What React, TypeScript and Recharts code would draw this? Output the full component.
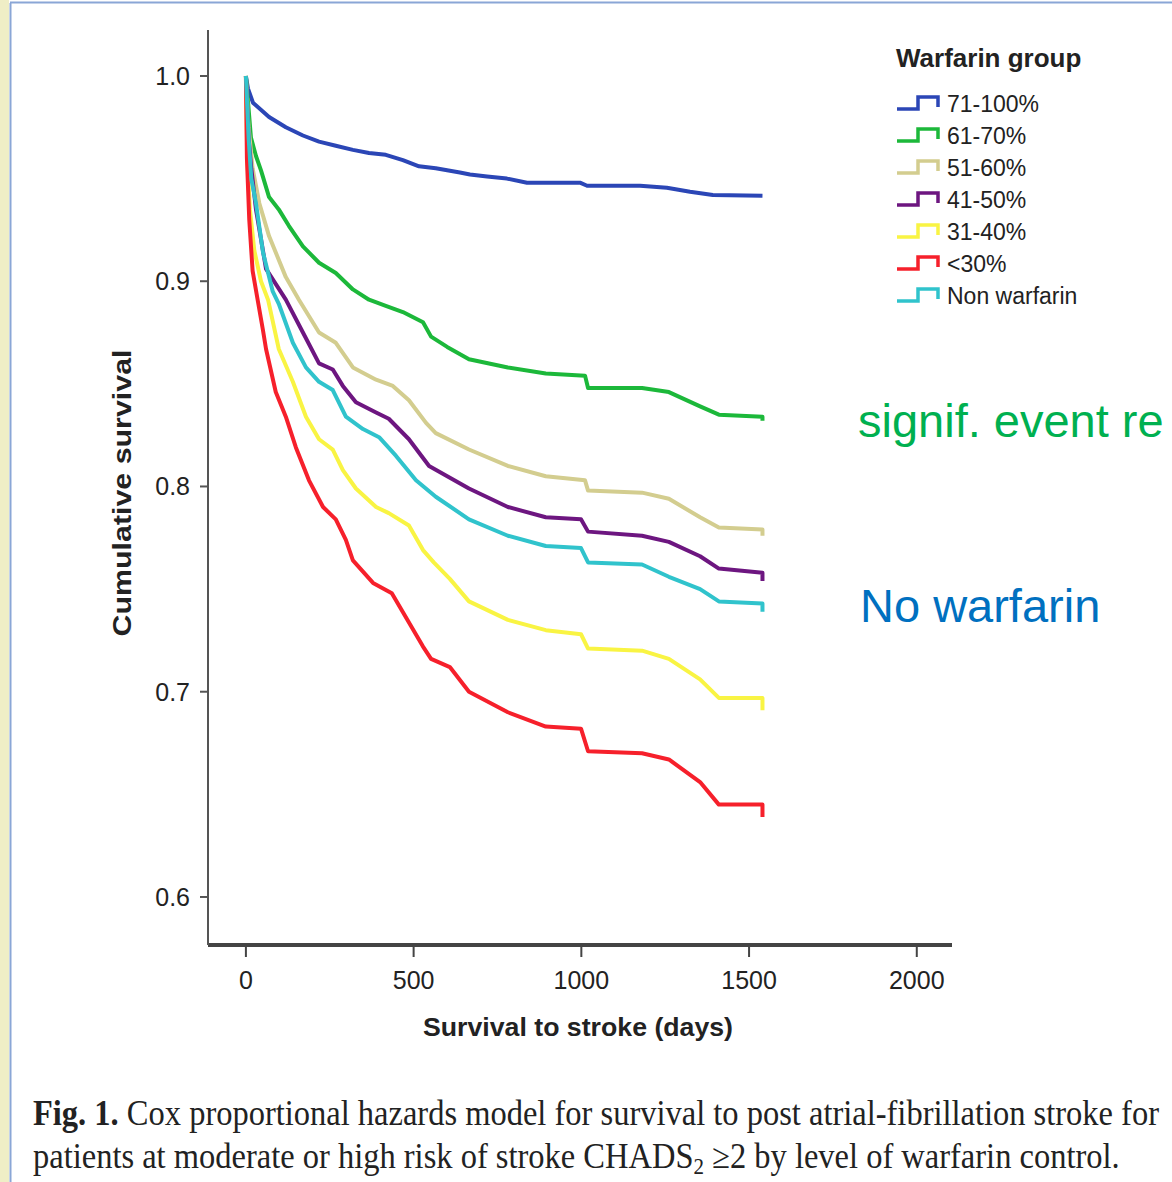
import { Legend, Line, LineChart, XAxis, YAxis } from "recharts";

const FONT = "'Liberation Sans', Arial, sans-serif";
const SERIF = "'Liberation Serif', serif";

const groups = ["71-100%", "61-70%", "51-60%", "41-50%", "31-40%", "<30%", "Non warfarin"];
const colors = ["#2b46b6", "#1cb83a", "#d3cd8f", "#6d1680", "#f9f443", "#f6202b", "#30c3cc"];

const days71 = [0, 6, 21, 69, 119, 170, 218, 268, 319, 367, 417, 468, 516, 566, 638, 668, 719, 778, 838, 996, 1017, 1175, 1255, 1324, 1392, 1540];
const surv71 = [1.0, 0.994, 0.987, 0.98, 0.975, 0.971, 0.968, 0.966, 0.964, 0.9625, 0.9616, 0.959, 0.956, 0.955, 0.953, 0.952, 0.951, 0.95, 0.948, 0.948, 0.9465, 0.9465, 0.9455, 0.9436, 0.942, 0.9416];

const days61 = [0, 15, 30, 45, 69, 98, 128, 170, 218, 268, 319, 367, 417, 468, 528, 552, 600, 665, 781, 894, 1011, 1020, 1181, 1261, 1354, 1410, 1540, 1540];
const surv61 = [1.0, 0.97, 0.961, 0.954, 0.941, 0.935, 0.927, 0.917, 0.909, 0.904, 0.896, 0.891, 0.888, 0.885, 0.88, 0.873, 0.868, 0.862, 0.858, 0.855, 0.854, 0.848, 0.848, 0.846, 0.839, 0.835, 0.834, 0.832];

const days51 = [0, 8, 20, 40, 69, 119, 158, 218, 268, 319, 388, 438, 486, 537, 566, 665, 781, 894, 1011, 1020, 1181, 1261, 1354, 1410, 1540, 1540];
const surv51 = [1.0, 0.975, 0.955, 0.938, 0.922, 0.902, 0.891, 0.875, 0.87, 0.858, 0.852, 0.849, 0.842, 0.831, 0.826, 0.818, 0.81, 0.805, 0.803, 0.798, 0.797, 0.794, 0.785, 0.78, 0.779, 0.776];

const days41 = [0, 8, 16, 30, 60, 119, 170, 218, 259, 289, 328, 388, 426, 486, 546, 665, 781, 894, 999, 1020, 1181, 1261, 1354, 1410, 1540, 1540];
const surv41 = [1.0, 0.97, 0.955, 0.935, 0.906, 0.891, 0.875, 0.86, 0.857, 0.849, 0.841, 0.836, 0.833, 0.823, 0.81, 0.799, 0.79, 0.785, 0.784, 0.778, 0.776, 0.773, 0.766, 0.76, 0.758, 0.754];

const days31 = [0, 4, 12, 25, 45, 66, 98, 140, 179, 218, 259, 289, 328, 388, 426, 486, 528, 560, 608, 665, 781, 894, 999, 1020, 1181, 1261, 1354, 1410, 1540, 1540];
const surv31 = [1.0, 0.96, 0.935, 0.915, 0.9, 0.891, 0.867, 0.851, 0.834, 0.823, 0.818, 0.808, 0.799, 0.79, 0.787, 0.781, 0.769, 0.763, 0.755, 0.744, 0.735, 0.73, 0.728, 0.721, 0.72, 0.716, 0.706, 0.697, 0.697, 0.691];

const days30 = [0, 3, 10, 20, 36, 51, 60, 89, 119, 149, 188, 230, 268, 298, 319, 379, 435, 528, 552, 608, 665, 781, 894, 999, 1020, 1181, 1261, 1354, 1410, 1540, 1540];
const surv30 = [1.0, 0.96, 0.93, 0.905, 0.89, 0.876, 0.867, 0.846, 0.834, 0.819, 0.803, 0.79, 0.784, 0.774, 0.764, 0.753, 0.748, 0.722, 0.716, 0.712, 0.7, 0.69, 0.683, 0.682, 0.671, 0.67, 0.667, 0.656, 0.645, 0.645, 0.639];

const daysNon = [0, 8, 16, 30, 51, 80, 98, 140, 179, 218, 259, 298, 349, 397, 447, 507, 566, 665, 781, 894, 999, 1020, 1181, 1261, 1354, 1410, 1540, 1540];
const survNon = [1.0, 0.97, 0.95, 0.938, 0.914, 0.895, 0.889, 0.87, 0.858, 0.851, 0.847, 0.834, 0.828, 0.824, 0.815, 0.803, 0.795, 0.784, 0.776, 0.771, 0.77, 0.763, 0.762, 0.756, 0.75, 0.744, 0.743, 0.739];

const xTicks = [0, 500, 1000, 1500, 2000];
const yTicks = [0.6, 0.7, 0.8, 0.9, 1.0];

const curves = [
  [days71, surv71],
  [days61, surv61],
  [days51, surv51],
  [days41, surv41],
  [days31, surv31],
  [days30, surv30],
  [daysNon, survNon],
];

const toRows = (days: number[], surv: number[]) => days.map((d, i) => ({ day: d, surv: surv[i] }));

function LegendBox({ payload }: any) {
  const items = [...(payload || [])].sort((a: any, b: any) => groups.indexOf(a.value) - groups.indexOf(b.value));
  return (
    <div style={{ fontFamily: FONT, color: "#222" }}>
      <div style={{ fontWeight: 700, fontSize: 26, lineHeight: "34px", marginBottom: 13 }}>Warfarin group</div>
      {items.map((item: any) => (
        <div key={item.value} style={{ display: "flex", alignItems: "center", height: 32 }}>
          <svg width={46} height={20} style={{ marginRight: 5 }}>
            <path d="M1,15 H22 V3 H42 V13" fill="none" stroke={item.color} strokeWidth={3.5} />
          </svg>
          <span style={{ fontSize: 23 }}>{item.value}</span>
        </div>
      ))}
    </div>
  );
}

export default function App() {
  return (
    <div style={{ position: "absolute", left: 0, top: 0, width: 1172, height: 1182, background: "#fff", overflow: "hidden" }}>
      <LineChart width={1172} height={1182} margin={{ top: 30, right: 220, bottom: 177, left: 0 }}>
        <XAxis
          dataKey="day"
          type="number"
          domain={[-113, 2105]}
          ticks={xTicks}
          height={60}
          allowDataOverflow
          axisLine={{ stroke: "#444", strokeWidth: 4 }}
          tickLine={{ stroke: "#444", strokeWidth: 2 }}
          tickSize={12}
          tickMargin={14}
          tick={{ fill: "#222", fontSize: 25, fontFamily: FONT }}
        />
        <YAxis
          type="number"
          domain={[0.5766, 1.0224]}
          ticks={yTicks}
          width={208}
          allowDataOverflow
          tickFormatter={(v: number) => v.toFixed(1)}
          axisLine={{ stroke: "#555", strokeWidth: 2 }}
          tickLine={{ stroke: "#555", strokeWidth: 2 }}
          tickSize={8}
          tickMargin={10}
          tick={{ fill: "#222", fontSize: 25, fontFamily: FONT }}
        />
        <Legend
          layout="horizontal"
          verticalAlign="middle"
          align="center"
          content={LegendBox}
          wrapperStyle={{ position: "absolute", left: 896, top: 41, width: 260, height: 290 }}
        />
        {curves.map(([d, s], i) => (
          <Line
            key={groups[i]}
            name={groups[i]}
            data={toRows(d, s)}
            dataKey="surv"
            type="linear"
            stroke={colors[i]}
            strokeWidth={4}
            strokeLinejoin="round"
            dot={false}
            activeDot={false}
            isAnimationActive={false}
          />
        ))}
      </LineChart>
      <svg width={1172} height={1182} style={{ position: "absolute", left: 0, top: 0, pointerEvents: "none" }}>
        <rect x={0} y={0} width={9} height={1182} fill="#efeec6" />
        <line x1={10.5} y1={3} x2={10.5} y2={1182} stroke="#8aa6d6" strokeWidth={2} />
        <line x1={10} y1={2.5} x2={1172} y2={2.5} stroke="#8aa6d6" strokeWidth={2} />
        <text
          x={122}
          y={493}
          transform="rotate(-90 122 493)"
          textAnchor="middle"
          dominantBaseline="central"
          fontFamily={FONT}
          fontWeight={700}
          fontSize={26}
          fill="#222"
          textLength={287}
          lengthAdjust="spacingAndGlyphs"
        >
          Cumulative survival
        </text>
        <text
          x={578}
          y={1036}
          textAnchor="middle"
          fontFamily={FONT}
          fontWeight={700}
          fontSize={26}
          fill="#222"
          textLength={310}
          lengthAdjust="spacingAndGlyphs"
        >
          Survival to stroke (days)
        </text>
        <text x={858} y={437} fontFamily={FONT} fontSize={47} fill="#00b050">
          signif. event re
        </text>
        <text x={860} y={622} fontFamily={FONT} fontSize={47} fill="#0070c0">
          No warfarin
        </text>
        <g transform="translate(33,1125) scale(1,1.08)">
          <text x={0} y={0} fontFamily={SERIF} fontSize={32.5} fill="#222">
            <tspan fontWeight={700}>Fig. 1.</tspan> Cox proportional hazards model for survival to post atrial-fibrillation stroke for
          </text>
        </g>
        <g transform="translate(33,1168) scale(1,1.08)">
          <text x={0} y={0} fontFamily={SERIF} fontSize={32.5} fill="#222">
            patients at moderate or high risk of stroke CHADS
            <tspan fontSize={21} dy={6}>2</tspan>
            <tspan dy={-6}> ≥2 by level of warfarin control.</tspan>
          </text>
        </g>
      </svg>
    </div>
  );
}
